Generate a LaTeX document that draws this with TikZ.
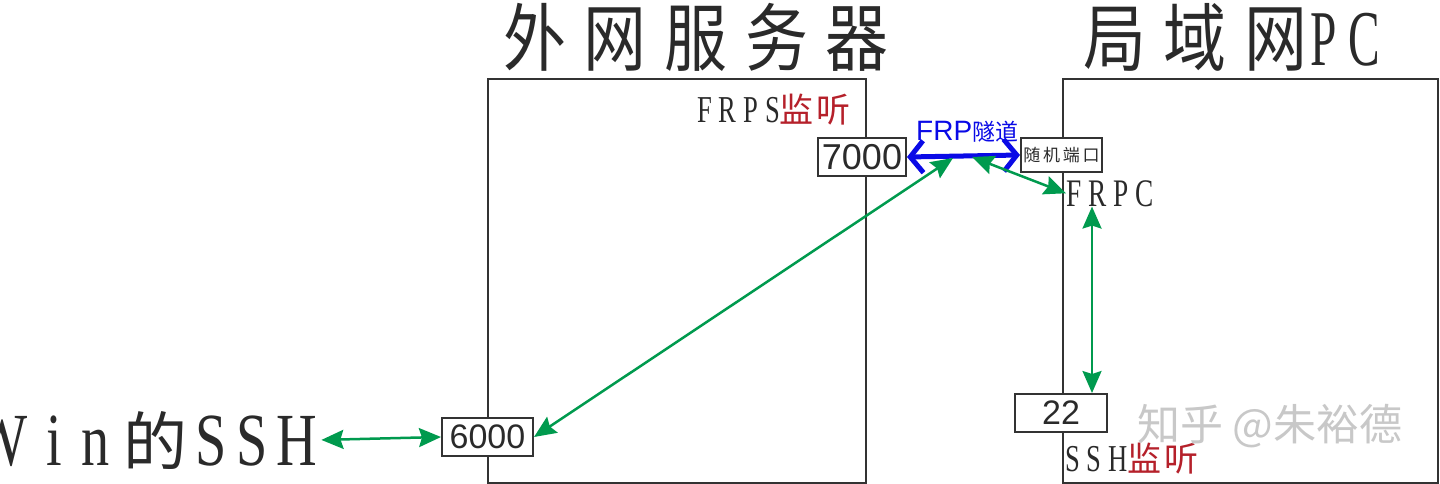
\documentclass[tikz,border=0pt]{standalone}
\usepackage{fontspec}
\usetikzlibrary{arrows.meta}
\setmainfont{Liberation Serif}
\newfontfamily\cjk[LetterSpace=16]{Noto Sans CJK SC}
\newfontfamily\cjkT[FakeStretch=0.85,LetterSpace=24]{Noto Sans CJK SC}
\newfontfamily\cjkn{Noto Sans CJK SC}
\newfontfamily\lat[FakeStretch=0.7,LetterSpace=18]{Liberation Serif}
\newfontfamily\latN[FakeStretch=0.75]{Liberation Serif}
\newfontfamily\latT[FakeStretch=0.6]{Liberation Serif}
\newfontfamily\sans{Liberation Sans}
\definecolor{txt}{HTML}{2A2A2A}
\definecolor{lred}{HTML}{B5202A}
\definecolor{tblue}{HTML}{0A0AE6}
\definecolor{ggreen}{HTML}{009A4E}
\definecolor{boxc}{HTML}{333333}
\definecolor{wmark}{HTML}{C8C8C8}
\newcommand{\fs}[1]{\fontsize{#1}{#1}\selectfont}
\tikzset{
  bigbox/.style={draw=boxc, line width=2pt, anchor=north west, inner sep=0pt},
  portbox/.style={draw=boxc, line width=2pt, fill=white, inner sep=0pt, text=txt},
  lbl/.style={inner sep=0pt, text=txt},
  garrow/.style={ggreen, line width=2.5pt,
    {Stealth[length=22pt,width=19pt,inset=3pt]}-{Stealth[length=22pt,width=19pt,inset=3pt]}},
  barrow/.style={tblue, line width=5pt,
    {Straight Barb[length=13pt,width=32pt]}-{Straight Barb[length=13pt,width=32pt]}}
}
\begin{document}
\begin{tikzpicture}[x=1pt,y=-1pt]
\useasboundingbox (0,0) rectangle (1440,484);
% big boxes
\node[bigbox, minimum width=378pt, minimum height=404pt] (srv) at (487,78) {};
\node[bigbox, minimum width=375pt, minimum height=404pt] (pc) at (1062,78) {};
% titles
\node[lbl, anchor=base west] (tsrv) at (503,66) {\cjkT\fs{74}外网服务器};
\node[lbl, anchor=base west] (tpc) at (1083,66) {\cjkT\fs{74}局域网\hspace{3pt}\latT\fs{79}P\hspace{12pt}C};
% labels
\node[lbl, anchor=base west] (frps) at (697,123) {\lat\fs{38}FRPS\cjkn\fs{34}\textcolor{lred}{监\hspace{3pt}听}};
\node[lbl, anchor=base west] (frpc) at (1066,206) {\lat\fs{39}FRPC};
\node[lbl, anchor=base west] (sshl) at (1065,471) {\lat\fs{38}SSH\cjkn\fs{34}\textcolor{lred}{监\hspace{3pt}听}};
\node[lbl, anchor=base west] (win) at (-26,465) {\latN\fs{75}W\hspace{19pt}i\hspace{20pt}n\hspace{13pt}\cjkn\fs{64}的\hspace{8pt}\latN\fs{75}S\hspace{10pt}S\hspace{9pt}H};
\node[inner sep=0pt, text=tblue, anchor=base west] (tun) at (916,140) {\sans\fs{28}FRP\cjkn\fs{23}隧道};
\node[inner sep=0pt, text=wmark, anchor=base west] (wm) at (1137,440) {\cjkn\fs{43}知乎 @朱裕德};
% port boxes
\node[portbox, minimum width=88pt, minimum height=38pt, font=\sans\fs{36}] (p7000) at (862,157) {7000};
\node[portbox, minimum width=81pt, minimum height=34pt, font=\cjk\fs{17}] (rnd) at (1061.5,155) {随机端口};
\node[portbox, minimum width=91pt, minimum height=38pt, font=\sans\fs{34}] (p6000) at (487.5,437) {6000};
\node[portbox, minimum width=92pt, minimum height=38pt, font=\sans\fs{34}] (p22) at (1061,413) {22};
% tunnel coordinates
\coordinate (ta) at (953,158);
\coordinate (tb) at (972,157);
% connectors
\draw[barrow] (p7000.east) -- (rnd.west);
\draw[garrow] (p6000.east) -- (ta);
\draw[garrow] (tb) -- (frpc.west);
\draw[garrow] ([xshift=26pt]frpc.south west) -- ([xshift=31pt]p22.north);
\draw[garrow, shorten <=4pt] (win.east) -- (p6000.west);
\end{tikzpicture}
\end{document}
